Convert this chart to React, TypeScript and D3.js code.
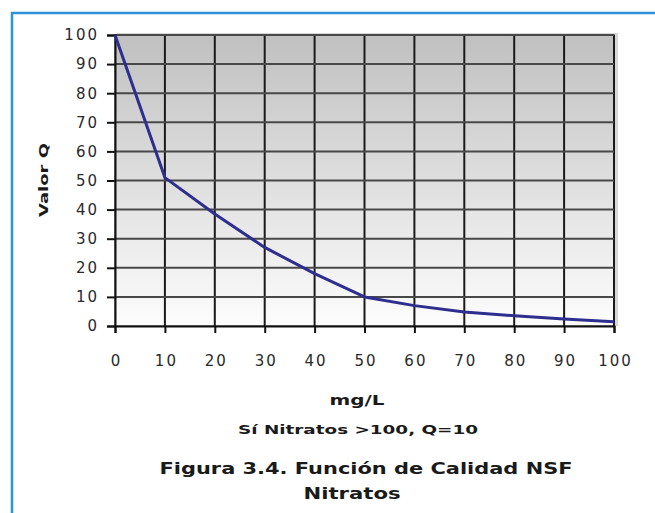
import React, { useEffect, useRef } from "react";
import { select, scaleLinear, axisBottom, axisLeft, line } from "d3";

// valores
const concentraciones = [0, 10, 20, 30, 40, 50, 60, 70, 80, 90, 100];
const valorQ = [100, 51, 38.5, 27, 18, 10, 7, 4.8, 3.5, 2.4, 1.5];
const ticksX = [0, 10, 20, 30, 40, 50, 60, 70, 80, 90, 100];
const ticksY = [0, 10, 20, 30, 40, 50, 60, 70, 80, 90, 100];

const W = 655;
const H = 513;
const FONT = "'DejaVu Sans', Verdana, sans-serif";

export default function App() {
  const svgRef = useRef<SVGSVGElement>(null);

  useEffect(() => {
    const svg = select(svgRef.current);
    svg.selectAll("*").remove();

    const x = scaleLinear().domain([0, 100]).range([115, 614]);
    const y = scaleLinear().domain([0, 100]).range([326, 35]);

    const defs = svg.append("defs");
    const grad = defs
      .append("linearGradient")
      .attr("id", "fondo")
      .attr("x1", 0)
      .attr("y1", 0)
      .attr("x2", 0)
      .attr("y2", 1);
    grad.append("stop").attr("offset", "0%").attr("stop-color", "#c0c0c0");
    grad.append("stop").attr("offset", "100%").attr("stop-color", "#fdfdfd");

    // marco azul
    svg
      .append("path")
      .attr("d", `M12,${H} L12,13 L${W},13`)
      .attr("fill", "none")
      .attr("stroke", "#2c93dc")
      .attr("stroke-width", 2.5);

    // sombra y fondo del area de trazado
    svg
      .append("rect")
      .attr("x", x(0) + 2)
      .attr("y", y(100) - 2)
      .attr("width", x(100) - x(0) + 2)
      .attr("height", y(0) - y(100) + 2)
      .attr("fill", "#d8d8d8");
    svg
      .append("rect")
      .attr("x", x(0))
      .attr("y", y(100))
      .attr("width", x(100) - x(0))
      .attr("height", y(0) - y(100))
      .attr("fill", "url(#fondo)")
      .attr("stroke", "#8a8a8a")
      .attr("stroke-width", 2);

    // rejilla
    const grid = svg.append("g");
    grid
      .selectAll(".gv")
      .data(ticksX.slice(1))
      .join("line")
      .attr("x1", (d) => x(d))
      .attr("x2", (d) => x(d))
      .attr("y1", y(100))
      .attr("y2", y(0))
      .attr("stroke", "#1a1a1a")
      .attr("stroke-width", 2);
    grid
      .selectAll(".gh")
      .data(ticksY.slice(1))
      .join("line")
      .attr("x1", x(0))
      .attr("x2", x(100))
      .attr("y1", (d) => y(d))
      .attr("y2", (d) => y(d))
      .attr("stroke", "#484848")
      .attr("stroke-width", 2);

    // ejes
    const gx = svg
      .append("g")
      .attr("transform", `translate(0, ${y(0)})`)
      .call(axisBottom(x).tickValues(ticksX).tickSize(7).tickPadding(22));
    const gy = svg
      .append("g")
      .attr("transform", `translate(${x(0)}, 0)`)
      .call(axisLeft(y).tickValues(ticksY).tickSize(8).tickPadding(8));
    [gx, gy].forEach((g) => {
      g.select(".domain").attr("stroke", "#111").attr("stroke-width", 2);
      g.selectAll(".tick line").attr("stroke", "#111").attr("stroke-width", 2);
      g.selectAll(".tick text")
        .attr("fill", "#2a2a2a")
        .style("font-family", FONT)
        .style("font-size", "15px")
        .style("letter-spacing", "2px");
    });
    gx.selectAll(".tick text").attr("dx", 1);

    // curva
    const linea = line<number>()
      .x((d) => x(d))
      .y((_, i) => y(valorQ[i]));
    svg
      .append("path")
      .attr("d", linea(concentraciones))
      .attr("fill", "none")
      .attr("stroke", "#2e2e8f")
      .attr("stroke-width", 3)
      .attr("stroke-linejoin", "round");

    // textos
    const texto = (
      tx: number,
      ty: number,
      s: string,
      size: number,
      len: number
    ) =>
      svg
        .append("text")
        .attr("x", tx)
        .attr("y", ty)
        .attr("text-anchor", "middle")
        .attr("textLength", len)
        .attr("lengthAdjust", "spacingAndGlyphs")
        .style("font-family", FONT)
        .style("font-weight", "bold")
        .style("font-size", size + "px")
        .attr("fill", "#1a1a1a")
        .text(s);

    svg
      .append("text")
      .attr("transform", "translate(48, 180) rotate(-90)")
      .attr("text-anchor", "middle")
      .attr("textLength", 74)
      .attr("lengthAdjust", "spacingAndGlyphs")
      .style("font-family", FONT)
      .style("font-weight", "bold")
      .style("font-size", "13px")
      .attr("fill", "#1a1a1a")
      .text("Valor Q");

    texto(357, 405, "mg/L", 14, 55);
    texto(358, 434, "Sí Nitratos >100, Q=10", 13, 240);
    texto(366, 474, "Figura 3.4. Función de Calidad NSF", 16, 413);
    texto(352, 499, "Nitratos", 16, 97);
  }, []);

  return (
    <div style={{ position: "absolute", left: 0, top: 0 }}>
      <svg ref={svgRef} width={W} height={H} style={{ display: "block" }} />
    </div>
  );
}
